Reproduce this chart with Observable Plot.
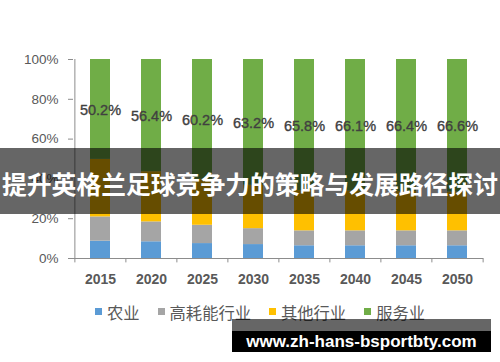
<!DOCTYPE html>
<html>
<head>
<meta charset="utf-8">
<script src="https://cdn.jsdelivr.net/npm/d3@7"></script>
<script src="https://cdn.jsdelivr.net/npm/@observablehq/plot@0.6"></script>
<style>
  html, body { margin: 0; padding: 0; background: #fff; }
  #wrap { position: relative; width: 500px; height: 362px; overflow: hidden; font-family: "Liberation Sans", Arial, sans-serif; }
  #legend { position: absolute; left: 95px; top: 303px; height: 18px; display: flex; align-items: center; font-family: "Noto Sans CJK SC", sans-serif; font-size: 16.3px; color: #595959; line-height: 1; white-space: nowrap; }
  #legend .item { display: flex; align-items: center; margin-right: 18px; }
  #legend .sw { width: 7px; height: 7px; margin-right: 5px; }
  #band { position: absolute; left: 0; top: 148px; width: 500px; height: 66px; background: rgba(0,0,0,0.6); color: #fff; font-family: "Noto Sans CJK SC", sans-serif; font-weight: bold; font-size: 24.8px; display: flex; align-items: center; justify-content: center; padding-top: 3px; box-sizing: border-box; white-space: nowrap; }
  #wm-top { position: absolute; left: 232px; top: 319px; width: 259px; height: 12px; background: rgba(0,0,0,0.6); }
  #wm { position: absolute; left: 232px; top: 331px; width: 259px; height: 21px; background: #000; color: #fff; font-family: "Liberation Sans", Arial, sans-serif; font-weight: bold; font-size: 17px; display: flex; align-items: center; justify-content: center; white-space: nowrap; }
</style>
</head>
<body>
<div id="wrap">
  <div id="chart"></div>
  <div id="legend"></div>
  <div id="band"></div>
  <div id="wm-top"></div>
  <div id="wm"></div>
</div>
<script>
const years = ["2015", "2020", "2025", "2030", "2035", "2040", "2045", "2050"];
const seriesNames = ["农业", "高耗能行业", "其他行业", "服务业"];
const seriesColors = ["#5B9BD5", "#A5A5A5", "#FFC000", "#70AD47"];
const agriculture = [8.7, 8.4, 7.5, 7.0, 6.4, 6.4, 6.4, 6.4];
const energyIntensive = [12.2, 10.0, 9.2, 8.0, 7.5, 7.5, 7.5, 7.5];
const otherIndustry = [28.9, 25.2, 23.1, 21.8, 20.3, 20.0, 19.7, 19.5];
const services = [50.2, 56.4, 60.2, 63.2, 65.8, 66.1, 66.4, 66.6];
const yTicks = [0, 20, 40, 60, 80, 100];
const titleText = "提升英格兰足球竞争力的策略与发展路径探讨";
const watermarkText = "www.zh-hans-bsportbty.com";

const seriesValues = [agriculture, energyIntensive, otherIndustry, services];
const data = [];
seriesNames.forEach((s, i) => years.forEach((y, j) => data.push({year: y, series: s, value: seriesValues[i][j]})));
const serviceData = years.map((y, j) => ({year: y, value: services[j]}));

const W = 500, H = 290, ML = 73, MR = 17;
const step = (W - ML - MR) / years.length;
const axisColor = "#8c8c8c";
const textColor = "#595959";

const chart = Plot.plot({
  width: W,
  height: H,
  marginTop: 59,
  marginBottom: 32,
  marginLeft: ML,
  marginRight: MR,
  style: {fontFamily: "'Liberation Sans', Arial, sans-serif", background: "transparent", overflow: "visible"},
  x: {domain: years, paddingInner: 0.61, paddingOuter: 0.305, label: null},
  y: {domain: [0, 100], label: null},
  color: {domain: seriesNames, range: seriesColors},
  marks: [
    Plot.barY(data, {x: "year", y: "value", fill: "series", order: seriesNames}),
    Plot.ruleY([0], {stroke: axisColor}),
    Plot.ruleX([years[0]], {y1: 0, y2: 100, dx: -step / 2, stroke: axisColor}),
    Plot.ruleX(years, {y1: 0, y2: -2.2, dx: -step / 2, stroke: axisColor}),
    Plot.ruleX([years[years.length - 1]], {y1: 0, y2: -2.2, dx: step / 2, stroke: axisColor}),
    Plot.axisY({ticks: yTicks, tickFormat: d => d + "%", tickSize: 5, tickPadding: 10, stroke: axisColor, fill: textColor, fontSize: 13.5, label: null}),
    Plot.axisX({tickSize: 0, tickPadding: 16, fill: textColor, fontSize: 14, fontWeight: "bold", label: null}),
    Plot.text(serviceData, {x: "year", y: d => 100 - d.value / 2, text: d => d.value.toFixed(1) + "%", fill: "#404040", stroke: "#404040", strokeWidth: 0.35, fontSize: 14.5, dy: 1})
  ]
});
document.getElementById("chart").appendChild(chart);

const legend = document.getElementById("legend");
seriesNames.forEach((s, i) => {
  const item = document.createElement("div");
  item.className = "item";
  const sw = document.createElement("span");
  sw.className = "sw";
  sw.style.background = seriesColors[i];
  const label = document.createElement("span");
  label.textContent = s;
  item.appendChild(sw);
  item.appendChild(label);
  legend.appendChild(item);
});
document.getElementById("band").textContent = titleText;
document.getElementById("wm").textContent = watermarkText;
</script>
</body>
</html>
